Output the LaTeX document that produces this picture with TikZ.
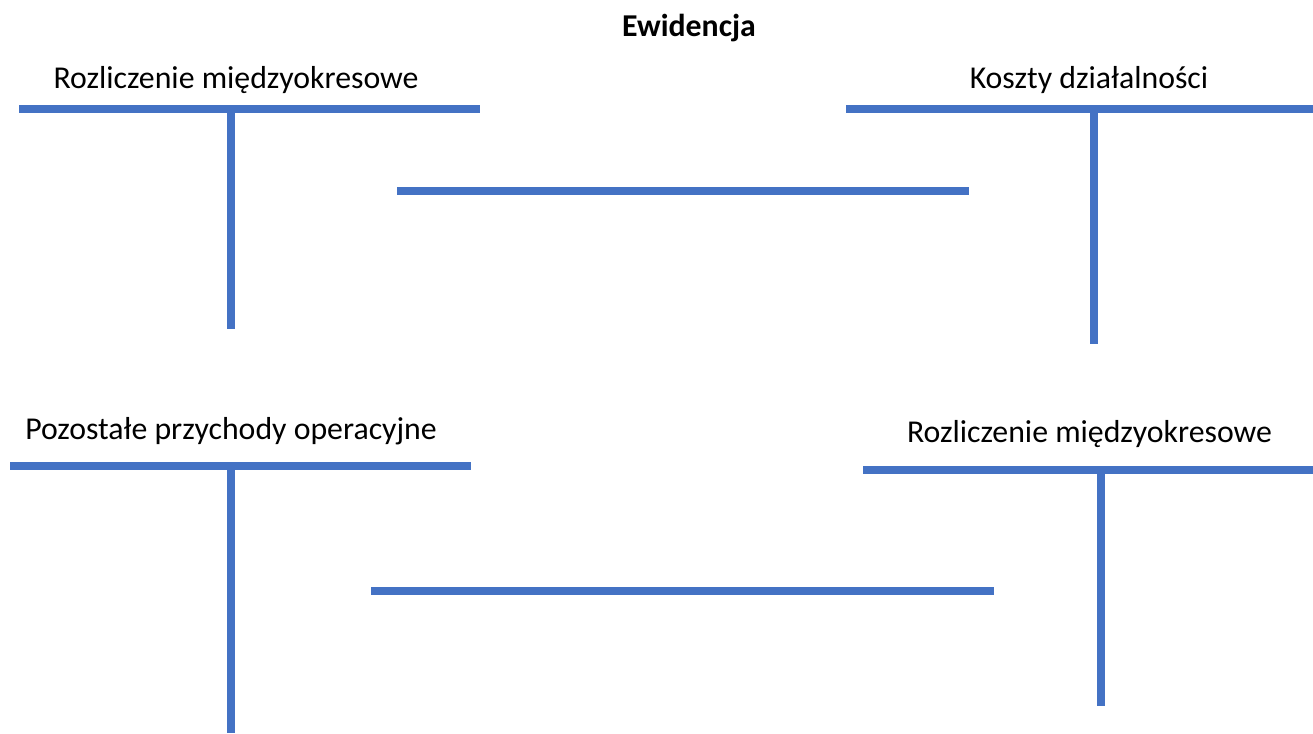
\documentclass[tikz,border=0pt]{standalone}
\usepackage{fontspec}
\setmainfont{Carlito}
\definecolor{acc}{HTML}{4472C4}
\begin{document}
\begin{tikzpicture}[x=1pt,y=-1pt,
  lbl/.style={anchor=base,inner sep=0pt,font=\fontsize{31.8}{38}\selectfont},
  ttl/.style={anchor=base,inner sep=0pt,font=\fontsize{31.8}{38}\selectfont\bfseries},
  tline/.style={draw=acc,line width=8pt}]
\useasboundingbox (0,0) rectangle (1313,733);
% title
\node[ttl] (title) at (689,37) {Ewidencja};
% labels
\node[lbl] (l1) at (236,89) {Rozliczenie międzyokresowe};
\node[lbl] (l2) at (1089,89) {Koszty działalności};
\node[lbl] (l3) at (231,439) {Pozostałe przychody operacyjne};
\node[lbl] (l4) at (1089.5,442) {Rozliczenie międzyokresowe};
% T-account 1
\coordinate (a1l) at (19,109); \coordinate (a1r) at (480,109);
\coordinate (a1t) at (231,109); \coordinate (a1b) at (231,329);
% T-account 2
\coordinate (a2l) at (846,109); \coordinate (a2r) at (1313,109);
\coordinate (a2t) at (1094,109); \coordinate (a2b) at (1094,344);
% T-account 3
\coordinate (a3l) at (10,466); \coordinate (a3r) at (471,466);
\coordinate (a3t) at (231,466); \coordinate (a3b) at (231,733);
% T-account 4
\coordinate (a4l) at (863,469.5); \coordinate (a4r) at (1313,469.5);
\coordinate (a4t) at (1101,469.5); \coordinate (a4b) at (1101,706);
% middle lines
\coordinate (m1l) at (397,191); \coordinate (m1r) at (969,191);
\coordinate (m2l) at (371,591); \coordinate (m2r) at (994,591);
\draw[tline] (a1l) -- (a1r); \draw[tline] (a1t) -- (a1b);
\draw[tline] (a2l) -- (a2r); \draw[tline] (a2t) -- (a2b);
\draw[tline] (a3l) -- (a3r); \draw[tline] (a3t) -- (a3b);
\draw[tline] (a4l) -- (a4r); \draw[tline] (a4t) -- (a4b);
\draw[tline] (m1l) -- (m1r);
\draw[tline] (m2l) -- (m2r);
\end{tikzpicture}
\end{document}
